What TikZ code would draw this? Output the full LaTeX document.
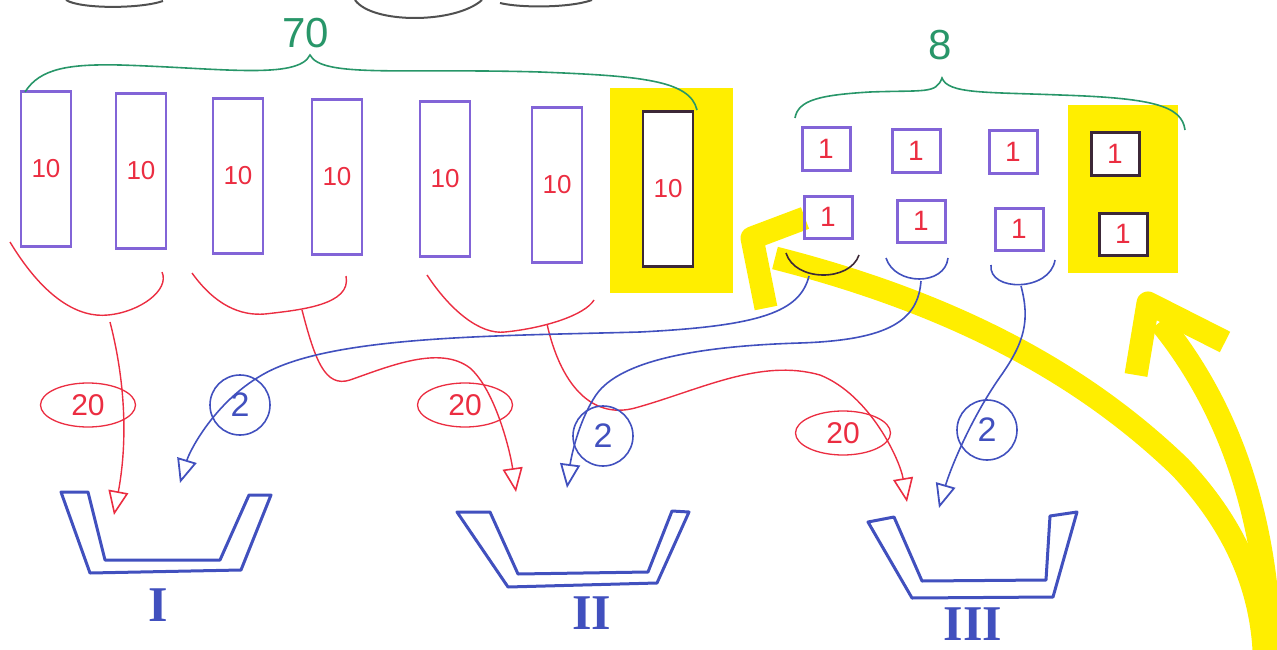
\documentclass[tikz,border=0pt]{standalone}
\usepackage{fontspec}
\setmainfont{Liberation Sans}
\newfontfamily\romfont{Liberation Serif}
\usetikzlibrary{arrows.meta,shapes.geometric}
\definecolor{pur}{RGB}{130,100,215}
\definecolor{blu}{RGB}{65,80,190}
\definecolor{rd}{RGB}{235,45,65}
\definecolor{grn}{RGB}{40,150,105}
\definecolor{ylw}{RGB}{255,238,0}
\definecolor{drk}{RGB}{60,40,55}
\definecolor{gry}{RGB}{80,80,80}
\tikzset{
  tallbox/.style={draw=pur, line width=2.6pt, minimum width=50pt, minimum height=155pt, inner sep=0pt, text=rd, font=\fontsize{26}{26}\selectfont},
  sqbox/.style={draw=pur, line width=3pt, minimum width=48pt, minimum height=42pt, inner sep=0pt, text=rd, font=\fontsize{28}{28}\selectfont},
  gbrace/.style={draw=grn, line width=1.6pt},
  rbrace/.style={draw=rd, line width=1.4pt},
  bbrace/.style={draw=blu, line width=1.6pt},
  redarrow/.style={draw=rd, line width=1.4pt, -{Triangle[open, length=24pt, width=20pt, line width=1.6pt]}},
  bluarrow/.style={draw=blu, line width=1.6pt, -{Triangle[open, length=24pt, width=20pt, line width=1.8pt]}},
  redlbl/.style={draw=rd, ellipse, line width=1.3pt, minimum width=95pt, minimum height=44pt, inner sep=0pt, text=rd, font=\fontsize{30}{30}\selectfont},
  blulbl/.style={draw=blu, circle, line width=1.6pt, minimum size=60pt, inner sep=0pt, text=blu, font=\fontsize{34}{34}\selectfont},
  binshape/.style={draw=blu, line width=3pt, line join=round},
  numeral/.style={text=blu, inner sep=0pt, font=\romfont\bfseries\fontsize{50}{50}\selectfont},
  ymark/.style={draw=ylw, line width=23pt, line join=round},
  gtext/.style={text=grn, font=\fontsize{42}{42}\selectfont}
}
\begin{document}
\begin{tikzpicture}[x=1pt,y=-1pt]
\useasboundingbox (0,0) rectangle (1277,650);
% partial shapes at the top edge
\draw[gry, line width=2pt] (66,0) .. controls (80,9) and (140,9) .. (163,1);
\draw[gry, line width=2pt] (355,0) .. controls (372,24) and (455,24) .. (482,0);
\draw[gry, line width=2pt] (500,3) .. controls (520,8) and (570,8) .. (592,0);
% yellow highlights
\fill[ylw] (610,88) rectangle (733,293);
\fill[ylw] (1068,105) rectangle (1178,273);
% yellow arrows
\draw[ymark] (1264,650) .. controls (1260,580) and (1230,520) .. (1180,467) .. controls (1100,390) and (980,310) .. (775,258);
\draw[ymark] (805,218) -- (752,238) -- (766,308);
\draw[ymark] (1270,650) .. controls (1268,540) and (1240,420) .. (1160,322);
\draw[ymark] (1225,342) -- (1148,303) -- (1136,375);
% tall boxes
\node[tallbox] (r1) at (46,169) {10};
\node[tallbox] (r2) at (141,171) {10};
\node[tallbox] (r3) at (238,176) {10};
\node[tallbox] (r4) at (337,177) {10};
\node[tallbox] (r5) at (445,179) {10};
\node[tallbox] (r6) at (557,185) {10};
\node[tallbox, draw=drk, fill=white] (r7) at (668,189) {10};
% small boxes
\node[sqbox] (s11) at (826,149) {1};
\node[sqbox] (s12) at (916,151) {1};
\node[sqbox] (s13) at (1013,152) {1};
\node[sqbox, draw=drk, fill=white] (s14) at (1115,154) {1};
\node[sqbox] (s21) at (828,217) {1};
\node[sqbox] (s22) at (921,221) {1};
\node[sqbox] (s23) at (1019,229) {1};
\node[sqbox, draw=drk, fill=white] (s24) at (1123,234) {1};
% green braces
\draw[gbrace] (25,92) .. controls (40,68) and (70,64) .. (120,65) .. controls (220,68) and (298,80) .. (310,55) .. controls (322,78) and (400,68) .. (540,72) .. controls (640,76) and (690,80) .. (697,110);
\node[gtext] (n70) at (306,33) {70};
\draw[gbrace] (795,118) .. controls (798,100) and (820,95) .. (870,92) .. controls (925,90) and (936,94) .. (942,78) .. controls (948,94) and (985,92) .. (1060,95) .. controls (1150,98) and (1182,105) .. (1185,130);
\node[gtext] (n8) at (940,45) {8};
% red braces under the tall boxes
\draw[rbrace] (10,242) .. controls (45,300) and (80,318) .. (108,315) .. controls (140,312) and (170,290) .. (162,272);
\draw[rbrace] (192,273) .. controls (215,305) and (240,316) .. (265,314) .. controls (300,310) and (352,305) .. (346,276);
\draw[rbrace] (427,275) .. controls (450,310) and (480,335) .. (505,332) .. controls (545,328) and (585,315) .. (594,300);
\coordinate (ra) at (110,322);
\coordinate (rb) at (302,310);
\coordinate (rc) at (547,324);
% blue braces under the small boxes
\draw[bbrace, draw=drk] (786,253) .. controls (795,282) and (850,282) .. (859,255);
\draw[bbrace] (886,258) .. controls (895,286) and (945,286) .. (948,258);
\draw[bbrace] (991,265) .. controls (988,292) and (1050,292) .. (1055,260);
\coordinate (ba) at (809,276);
\coordinate (bb) at (921,281);
\coordinate (bc) at (1021,286);
% bins
\draw[binshape] (61,492) -- (90,573) -- (241,570) -- (271,495) -- (249,495) -- (220,560) -- (105,560) -- (88,492) -- cycle;
\draw[binshape] (457,512) -- (508,587) -- (657,583) -- (689,512) -- (672,511) -- (648,572) -- (518,574) -- (490,512) -- cycle;
\draw[binshape] (868,522) -- (912,598) -- (1053,597) -- (1077,512) -- (1050,516) -- (1046,580) -- (922,581) -- (894,517) -- cycle;
\node[numeral] (b1) at (158,605) {I};
\node[numeral] (b2) at (592,613) {II};
\node[numeral] (b3) at (973,624) {III};
\coordinate (t1r) at (114,515);
\coordinate (t1b) at (180,483);
\coordinate (t2r) at (516,492);
\coordinate (t2b) at (567,488);
\coordinate (t3r) at (907,502);
\coordinate (t3b) at (939,508);
% red arrows
\draw[redarrow] (ra) .. controls (125,380) and (128,440) .. (t1r);
\draw[redarrow] (rb) .. controls (315,360) and (325,388) .. (350,380) .. controls (390,366) and (440,345) .. (470,368) .. controls (495,390) and (510,450) .. (t2r);
\draw[redarrow] (rc) .. controls (560,382) and (590,420) .. (635,408) .. controls (700,390) and (760,358) .. (820,375) .. controls (870,395) and (900,460) .. (t3r);
% blue arrows
\draw[bluarrow] (ba) .. controls (800,312) and (760,326) .. (640,332) .. controls (500,336) and (330,335) .. (262,375) .. controls (215,402) and (190,450) .. (t1b);
\draw[bluarrow] (bb) .. controls (918,320) and (890,340) .. (800,343) .. controls (700,346) and (620,360) .. (596,395) .. controls (576,425) and (570,465) .. (t2b);
\draw[bluarrow] (bc) .. controls (1030,320) and (1025,342) .. (1000,377) .. controls (970,420) and (950,470) .. (t3b);
% labels
\node[redlbl] (l20a) at (88,405) {20};
\node[redlbl] (l20b) at (465,405) {20};
\node[redlbl] (l20c) at (843,433) {20};
\node[blulbl] (l2a) at (240,405) {2};
\node[blulbl] (l2b) at (603,436) {2};
\node[blulbl] (l2c) at (987,430) {2};
\end{tikzpicture}
\end{document}
